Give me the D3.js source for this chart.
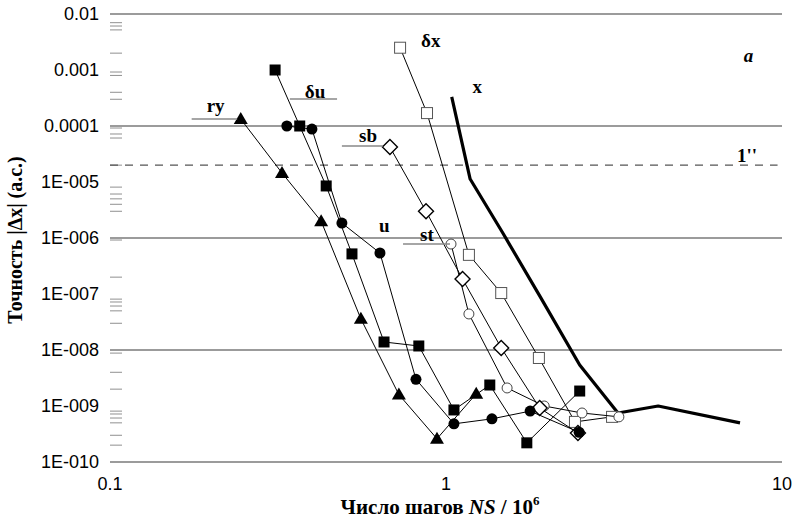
<!DOCTYPE html>
<html><head><meta charset="utf-8">
<script src="https://cdn.jsdelivr.net/npm/d3@7"></script>
<style>
body{margin:0;background:#fff;}
svg{display:block;}
</style></head>
<body>
<svg id="chart" width="797" height="524"></svg>
<script>
// ---- data ----
const xTickValues = [0.1, 1, 10];
const xTickLabels = ["0.1", "1", "10"];
const yTickValues = [1e-2, 1e-3, 1e-4, 1e-5, 1e-6, 1e-7, 1e-8, 1e-9, 1e-10];
const yTickLabels = ["0.01", "0.001", "0.0001", "1E-005", "1E-006", "1E-007", "1E-008", "1E-009", "1E-010"];
const gridValues = [1e-2, 1e-4, 1e-6, 1e-8, 1e-10];
const minorTickValues = [7.0e-3, 6.1e-3, 5.2e-3, 2.0e-3, 9.2e-4, 8.0e-4, 4.0e-4, 3.0e-4,
  9.2e-5, 7.2e-5, 6.1e-5, 2.0e-5, 8.1e-6, 6.1e-6, 5.0e-6, 4.0e-6, 3.0e-6, 9.2e-7, 2.0e-7,
  8.1e-8, 7.2e-8, 6.1e-8, 5.0e-8, 3.0e-8, 8.8e-9, 4.0e-9, 2.0e-9,
  8.1e-10, 7.2e-10, 6.1e-10, 5.0e-10, 3.0e-10, 2.0e-10];
const arcsecLevel = 2.0e-5;

// ry (filled triangles)
const ryX = [0.245, 0.325, 0.425, 0.558, 0.724, 0.94, 1.23];
const ryY = [1.33e-4, 1.45e-5, 2.0e-6, 3.6e-8, 1.6e-9, 2.6e-10, 1.65e-9];
// δu (filled squares)
const duX = [0.31, 0.367, 0.44, 0.525, 0.654, 0.83, 1.056, 1.35, 1.74, 2.5];
const duY = [1.0e-3, 1.0e-4, 8.5e-6, 5.2e-7, 1.39e-8, 1.18e-8, 8.5e-10, 2.37e-9, 2.2e-10, 1.85e-9];
// u (filled circles)
const uX = [0.336, 0.399, 0.49, 0.636, 0.814, 1.056, 1.37, 1.78, 2.49];
const uY = [1.0e-4, 8.8e-5, 1.85e-6, 5.4e-7, 3.0e-9, 4.8e-10, 5.9e-10, 8.1e-10, 3.4e-10];
// sb (open diamonds)
const sbX = [0.681, 0.872, 1.12, 1.46, 1.9, 2.47];
const sbY = [4.2e-5, 3.0e-6, 1.85e-7, 1.09e-8, 9.2e-10, 3.3e-10];
// st (open circles)
const stX = [1.035, 1.17, 1.52, 1.96, 2.54, 3.27];
const stY = [7.8e-7, 4.4e-8, 2.1e-9, 1.0e-9, 7.5e-10, 6.4e-10];
// δx (open squares)
const dxX = [0.73, 0.878, 1.17, 1.46, 1.89, 2.42, 3.12];
const dxY = [2.5e-3, 1.7e-4, 5.0e-7, 1.04e-7, 7.2e-9, 5.2e-10, 6.4e-10];
// x (thick line)
const xxX = [1.04, 1.18, 1.47, 1.91, 2.5, 3.25, 4.28, 7.5];
const xxY = [3.3e-4, 1.13e-5, 1.28e-6, 8.8e-8, 5.4e-9, 7.5e-10, 1.0e-9, 5.0e-10];

// ---- chart ----
const svg = d3.select("#chart");
const x = d3.scaleLog().domain([0.1, 10]).range([110, 782]);
const y = d3.scaleLog().domain([1e-10, 1e-2]).range([462, 14]);
const serif = "'Liberation Serif','Times New Roman',serif";
const sans = "'Liberation Sans',Arial,sans-serif";

// gridlines
svg.append("g").selectAll("line").data(gridValues).join("line")
  .attr("x1", x(0.1)).attr("x2", x(10))
  .attr("y1", d => y(d)).attr("y2", d => y(d))
  .attr("stroke", "#7a7a7a").attr("stroke-width", 1.3);

// minor ticks on left
svg.append("g").selectAll("line").data(minorTickValues).join("line")
  .attr("x1", x(0.1)).attr("x2", x(0.1) + 12)
  .attr("y1", d => y(d)).attr("y2", d => y(d))
  .attr("stroke", "#909090").attr("stroke-width", 1);

// 1'' dashed line
svg.append("line")
  .attr("x1", x(0.1)).attr("x2", x(9.7))
  .attr("y1", y(arcsecLevel)).attr("y2", y(arcsecLevel))
  .attr("stroke", "#555").attr("stroke-width", 1.2).attr("stroke-dasharray", "8,7");

// y tick labels
svg.append("g").selectAll("text").data(yTickValues).join("text")
  .attr("x", 99).attr("y", d => y(d)).attr("dy", "0.35em")
  .attr("text-anchor", "end").attr("font-family", sans).attr("font-size", 18)
  .text((d, i) => yTickLabels[i]);

// x tick labels
svg.append("g").selectAll("text").data(xTickValues).join("text")
  .attr("x", d => x(d)).attr("y", 490)
  .attr("text-anchor", "middle").attr("font-family", sans).attr("font-size", 18)
  .text((d, i) => xTickLabels[i]);

// axis titles
const xt = svg.append("text").attr("x", 440).attr("y", 514).attr("text-anchor", "middle")
  .attr("font-family", serif).attr("font-size", 21).attr("font-weight", "bold");
xt.append("tspan").text("Число шагов ");
xt.append("tspan").attr("font-style", "italic").text("NS");
xt.append("tspan").text(" / 10");
xt.append("tspan").attr("font-size", 13).attr("dy", -9).text("6");

svg.append("text").attr("transform", "translate(22,240) rotate(-90)")
  .attr("text-anchor", "middle").attr("font-family", serif).attr("font-size", 20)
  .attr("font-weight", "bold").text("Точность |Δx| (а.с.)");

const lineGen = d3.line().x(d => x(d[0])).y(d => y(d[1]));
function zip(a, b) { return a.map((v, i) => [v, b[i]]); }

// thick x line
svg.append("path").datum(zip(xxX, xxY)).attr("d", lineGen)
  .attr("fill", "none").attr("stroke", "#000").attr("stroke-width", 3.2).attr("stroke-linejoin", "round");

function series(xs, ys, marker) {
  const pts = zip(xs, ys);
  svg.append("path").datum(pts).attr("d", lineGen)
    .attr("fill", "none").attr("stroke", "#000").attr("stroke-width", 1);
  const g = svg.append("g");
  pts.forEach(p => {
    const cx = x(p[0]), cy = y(p[1]);
    if (marker === "tri") {
      g.append("path").attr("d", `M${cx},${cy - 7}L${cx + 7},${cy + 5}L${cx - 7},${cy + 5}Z`).attr("fill", "#000");
    } else if (marker === "sq") {
      g.append("rect").attr("x", cx - 5.5).attr("y", cy - 5.5).attr("width", 11).attr("height", 11).attr("fill", "#000");
    } else if (marker === "circ") {
      g.append("circle").attr("cx", cx).attr("cy", cy).attr("r", 5.5).attr("fill", "#000");
    } else if (marker === "dia") {
      g.append("path").attr("d", `M${cx},${cy - 7.5}L${cx + 7.5},${cy}L${cx},${cy + 7.5}L${cx - 7.5},${cy}Z`)
        .attr("fill", "#fff").attr("stroke", "#000").attr("stroke-width", 1.4);
    } else if (marker === "ocirc") {
      g.append("circle").attr("cx", cx).attr("cy", cy).attr("r", 5).attr("fill", "#fff")
        .attr("stroke", "#444").attr("stroke-width", 1);
    } else if (marker === "osq") {
      g.append("rect").attr("x", cx - 5.5).attr("y", cy - 5.5).attr("width", 11).attr("height", 11)
        .attr("fill", "#fff").attr("stroke", "#555").attr("stroke-width", 1);
    }
  });
}
series(dxX, dxY, "osq");
series(stX, stY, "ocirc");
series(sbX, sbY, "dia");
series(uX, uY, "circ");
series(duX, duY, "sq");
series(ryX, ryY, "tri");

// series labels with leader lines
const leaders = [
  { x1: 0.175, x2: 0.239, y: 1.33e-4 },
  { x1: 0.343, x2: 0.474, y: 3.03e-4 },
  { x1: 0.49, x2: 0.649, y: 4.4e-5 },
  { x1: 0.745, x2: 1.028, y: 7.8e-7 }
];
svg.append("g").selectAll("line").data(leaders).join("line")
  .attr("x1", d => x(d.x1)).attr("x2", d => x(d.x2))
  .attr("y1", d => y(d.y)).attr("y2", d => y(d.y))
  .attr("stroke", "#888").attr("stroke-width", 1.4);

const labels = [
  { t: "ry", x: 0.194, y: 1.75e-4 },
  { t: "δu", x: 0.38, y: 3.16e-4 },
  { t: "sb", x: 0.551, y: 5.2e-5 },
  { t: "st", x: 0.837, y: 8.8e-7 },
  { t: "u", x: 0.632, y: 1.28e-6 },
  { t: "δx", x: 0.843, y: 2.58e-3 },
  { t: "x", x: 1.2, y: 3.9e-4 },
  { t: "1''", x: 7.35, y: 2.28e-5 }
];
svg.append("g").selectAll("text").data(labels).join("text")
  .attr("x", d => x(d.x)).attr("y", d => y(d.y))
  .attr("font-family", serif).attr("font-size", 19).attr("font-weight", "bold")
  .text(d => d.t);
svg.append("text").attr("x", x(7.7)).attr("y", y(1.39e-3))
  .attr("font-family", serif).attr("font-size", 19).attr("font-weight", "bold").attr("font-style", "italic")
  .text("a");
</script>
</body></html>
